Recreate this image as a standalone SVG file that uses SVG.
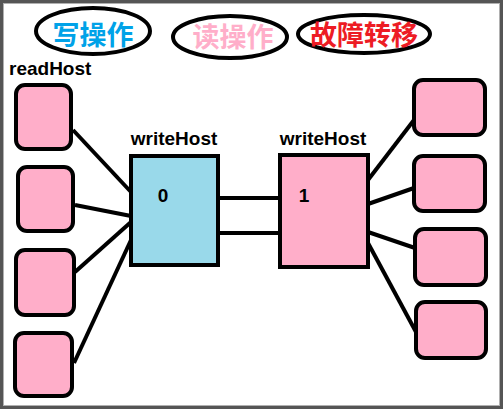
<svg xmlns="http://www.w3.org/2000/svg" width="503" height="409" viewBox="0 0 503 409">
<style>
.frame{fill:#fff;stroke:#555;stroke-width:3}
.oval{fill:#fff;stroke:#000;stroke-width:4}
.cjk{font-family:"Noto Sans CJK SC",sans-serif;font-weight:bold;font-size:27px;text-anchor:middle}
.lbl{font-family:"Liberation Sans",Arial,sans-serif;font-weight:bold;font-size:19px;fill:#000}
.small{fill:#ffaec9;stroke:#000;stroke-width:4}
.host{stroke:#000;stroke-width:4}
.conn line{stroke:#000;stroke-width:4;stroke-linecap:butt}
</style>
<rect class="frame" x="1.5" y="1.5" width="500" height="406"/>
<rect x="3.5" y="3.5" width="496" height="402" fill="none" stroke="#b0b0b0" stroke-width="1"/>
<g id="legend-write">
<ellipse class="oval" cx="93" cy="31" rx="57" ry="23"/>
<text class="cjk" x="93" y="45" fill="#00a2e8">写操作</text>
</g>
<g id="legend-read">
<ellipse class="oval" cx="230" cy="37" rx="57" ry="21"/>
<text class="cjk" x="233" y="47" fill="#ffaec9">读操作</text>
</g>
<g id="legend-failover">
<ellipse class="oval" cx="364" cy="34" rx="66" ry="19"/>
<text class="cjk" x="364" y="45" fill="#ed1c24">故障转移</text>
</g>
<text class="lbl" x="9" y="75">readHost</text>
<g class="conn" id="connectors">
<line x1="73" y1="130" x2="131" y2="192"/>
<line x1="75" y1="205" x2="131" y2="216"/>
<line x1="75" y1="272" x2="131" y2="222"/>
<line x1="74" y1="363" x2="131" y2="240"/>
<line x1="218" y1="198" x2="280" y2="198"/>
<line x1="218" y1="233" x2="282" y2="233"/>
<line x1="368" y1="180" x2="414" y2="120"/>
<line x1="368" y1="204" x2="414" y2="188"/>
<line x1="368" y1="232" x2="415" y2="248"/>
<line x1="368" y1="243" x2="416" y2="332"/>
</g>
<g id="read-l1"><rect class="small" x="16" y="85" width="55" height="64" rx="9"/></g>
<g id="read-l2"><rect class="small" x="18" y="167" width="55" height="64" rx="9"/></g>
<g id="read-l3"><rect class="small" x="16" y="250" width="58" height="65" rx="9"/></g>
<g id="read-l4"><rect class="small" x="15" y="333" width="57" height="63" rx="9"/></g>
<g id="read-r1"><rect class="small" x="414" y="80" width="71" height="55" rx="9"/></g>
<g id="read-r2"><rect class="small" x="414" y="156" width="71" height="55" rx="9"/></g>
<g id="read-r3"><rect class="small" x="415" y="229" width="71" height="56" rx="9"/></g>
<g id="read-r4"><rect class="small" x="416" y="302" width="70" height="56" rx="9"/></g>
<g id="write-0">
<text class="lbl" x="174" y="145" text-anchor="middle">writeHost</text>
<rect class="host" x="131" y="156" width="87" height="109" fill="#99d9ea"/>
<text class="lbl" x="163" y="202" text-anchor="middle">0</text>
</g>
<g id="write-1">
<text class="lbl" x="323" y="145" text-anchor="middle">writeHost</text>
<rect class="host" x="280" y="155" width="88" height="112" fill="#ffaec9"/>
<text class="lbl" x="304" y="202" text-anchor="middle">1</text>
</g>
</svg>
